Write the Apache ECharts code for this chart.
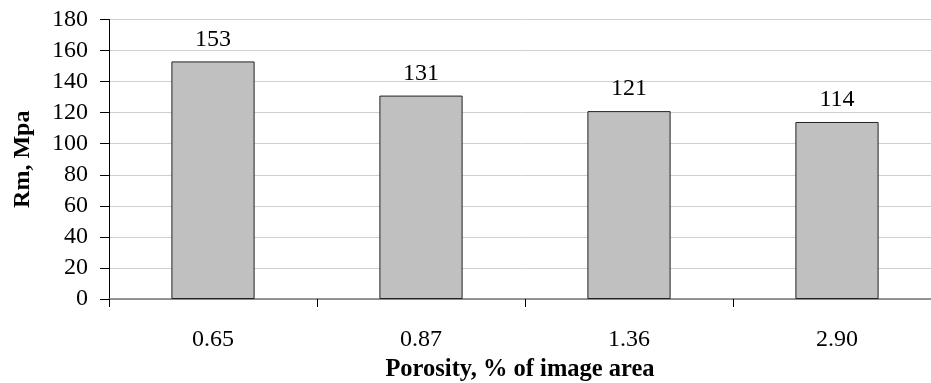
<!DOCTYPE html>
<html><head><meta charset="utf-8">
<script src="https://cdn.jsdelivr.net/npm/echarts@6/dist/echarts.min.js"></script>
<style>html,body{margin:0;padding:0;background:#fff}#c{width:931px;height:383px}</style>
</head><body><div id="c"></div>
<script>
const categories = ['0.65', '0.87', '1.36', '2.90'];
const values = [153, 131, 121, 114];
const yTicks = { min: 0, max: 180, interval: 20 };
const xTitle = 'Porosity, % of image area';
const yTitle = 'Rm, Mpa';

const font = '"Liberation Serif", "Times New Roman", serif';
const chart = echarts.init(document.getElementById('c'), null, { renderer: 'canvas' });
chart.setOption({
  animation: false,
  grid: { left: 109, top: 19.5, width: 832, height: 279.5, containLabel: false, outerBoundsMode: 'none' },
  xAxis: {
    type: 'category', data: categories,
    axisLine: { lineStyle: { color: '#777', width: 1.5 } },
    axisTick: { show: true, alignWithLabel: false, length: 8, lineStyle: { color: '#000' } },
    axisLabel: { color: '#000', fontFamily: font, fontSize: 24, margin: 29 },
    name: xTitle, nameLocation: 'middle', nameGap: 57,
    nameTextStyle: { color: '#000', fontFamily: font, fontSize: 24.5, fontWeight: 'bold', padding: [0, 10, 0, 0] }
  },
  yAxis: {
    type: 'value', min: yTicks.min, max: yTicks.max, interval: yTicks.interval,
    axisLine: { show: true, lineStyle: { color: '#000' } },
    axisTick: { show: true, length: 9, lineStyle: { color: '#000' } },
    axisLabel: { color: '#000', fontFamily: font, fontSize: 24, margin: 21 },
    splitLine: { lineStyle: { color: '#d0d0d0', width: 1 } },
    name: yTitle, nameLocation: 'middle', nameGap: 74, nameRotate: 90,
    nameTextStyle: { color: '#000', fontFamily: font, fontSize: 24, fontWeight: 'bold' }
  },
  series: [{
    type: 'bar', data: values, barWidth: '40%',
    itemStyle: { color: '#c0c0c0', borderColor: '#222', borderWidth: 1 },
    label: { show: true, position: 'top', distance: 10, color: '#000', fontFamily: font, fontSize: 24 }
  }]
});
</script></body></html>
